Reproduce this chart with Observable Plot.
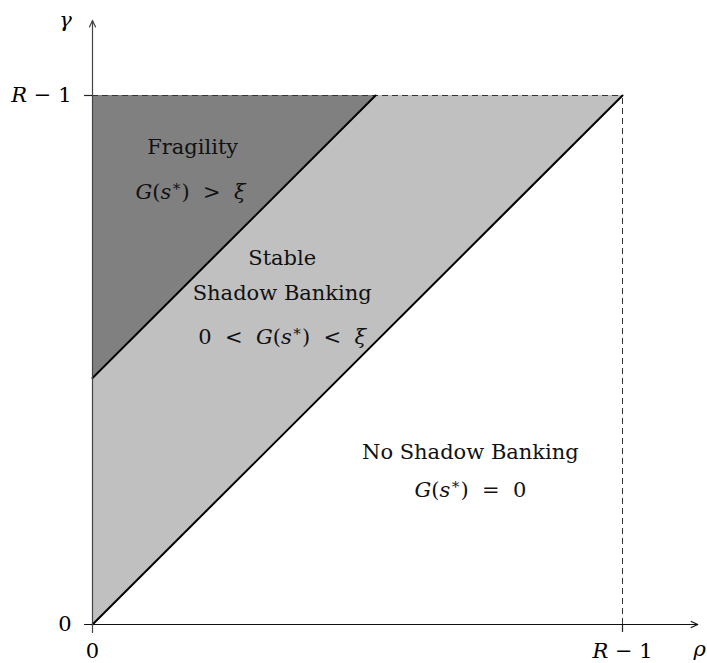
<!DOCTYPE html>
<html>
<head>
<meta charset="utf-8">
<script src="https://cdn.jsdelivr.net/npm/d3@7"></script>
<script src="https://cdn.jsdelivr.net/npm/@observablehq/plot@0.6"></script>
<style>
  body { margin: 0; background: #fff; }
  #chart { width: 707px; height: 663px; }
</style>
</head>
<body>
<div id="chart"></div>
<script>
// ---- data (R − 1 normalised to 1) ----
const R1 = 1;                 // R − 1
const fragIntercept = 0.466;  // fragility boundary meets γ-axis
const fragTop = 0.534;        // fragility boundary meets γ = R − 1

// light region (stable shadow banking): between γ = ρ and the fragility boundary
const stableX  = [0, fragTop, R1];
const stableY1 = [0, fragTop, R1];
const stableY2 = [fragIntercept, R1, R1];
// dark region (fragility): above the fragility boundary
const fragX  = [0, fragTop];
const fragY1 = [fragIntercept, R1];
const fragY2 = [R1, R1];

// boundary lines
const lowerLineX = [0, R1], lowerLineY = [0, R1];
const upperLineX = [0, fragTop], upperLineY = [fragIntercept, R1];

// region labels
const regionText = ["Fragility", "G(s*)  >  ξ", "Stable", "Shadow Banking", "0  <  G(s*)  <  ξ", "No Shadow Banking", "G(s*)  =  0"];
const regionX = [0.189, 0.185, 0.358, 0.358, 0.358, 0.713, 0.713];
const regionY = [0.902, 0.817, 0.692, 0.626, 0.543, 0.325, 0.253];

// tick labels
const xTickVals = [0, R1], xTickText = ["0", "R − 1"];
const yTickVals = [0, R1], yTickText = ["0", "R − 1"];
const axisExt = 1.142, axisNeg = -0.015;

const stable = stableX.map((x, i) => ({x, y1: stableY1[i], y2: stableY2[i]}));
const frag = fragX.map((x, i) => ({x, y1: fragY1[i], y2: fragY2[i]}));
const lowerLine = lowerLineX.map((x, i) => ({x, y: lowerLineY[i]}));
const upperLine = upperLineX.map((x, i) => ({x, y: upperLineY[i]}));
const regions = regionText.map((t, i) => ({t, x: regionX[i], y: regionY[i]}));

const font = "DejaVu Serif";
const fs = 21;

const plot = Plot.plot({
  width: 707,
  height: 663,
  x: {domain: [0, 1], range: [92, 622], axis: null},
  y: {domain: [0, 1], range: [624, 95], axis: null},
  style: {color: "#000", background: "#fff", fontFamily: font},
  marks: [
    Plot.areaY(stable, {x: "x", y1: "y1", y2: "y2", fill: "#c0c0c0", curve: "linear"}),
    Plot.areaY(frag, {x: "x", y1: "y1", y2: "y2", fill: "#808080", curve: "linear"}),
    // dashed guides at R − 1
    Plot.ruleY([R1], {x1: 0, x2: R1, stroke: "#333", strokeWidth: 1, strokeDasharray: "6,4"}),
    Plot.ruleX([R1], {y1: 0, y2: R1, stroke: "#333", strokeWidth: 1, strokeDasharray: "6,4"}),
    // small solid ticks
    Plot.ruleY([R1], {x1: axisNeg, x2: 0, stroke: "#222", strokeWidth: 1.2}),
    Plot.ruleX([R1], {y1: axisNeg, y2: 0, stroke: "#222", strokeWidth: 1.2}),
    // boundary lines
    Plot.line(lowerLine, {x: "x", y: "y", stroke: "#000", strokeWidth: 2}),
    Plot.line(upperLine, {x: "x", y: "y", stroke: "#000", strokeWidth: 2}),
    // axes with arrows
    Plot.arrow([{x1: axisNeg, y1: 0, x2: axisExt, y2: 0}], {x1: "x1", y1: "y1", x2: "x2", y2: "y2", stroke: "#111", strokeWidth: 1.2, headLength: 9, headAngle: 50}),
    Plot.arrow([{x1: 0, y1: axisNeg, x2: 0, y2: axisExt}], {x1: "x1", y1: "y1", x2: "x2", y2: "y2", stroke: "#444", strokeWidth: 1.2, headLength: 9, headAngle: 50}),
    // tick labels
    Plot.text(xTickVals.map((v, i) => ({v, t: xTickText[i]})), {x: "v", y: 0, text: "t", dy: 27, fill: "#000", fontFamily: font, fontSize: fs}),
    Plot.text(yTickVals.map((v, i) => ({v, t: yTickText[i]})), {x: 0, y: "v", text: "t", dx: -21, textAnchor: "end", fill: "#000", fontFamily: font, fontSize: fs}),
    Plot.text(["ρ"], {x: axisExt, y: 0, text: d => d, dx: 2, dy: 25, fill: "#000", fontFamily: font, fontSize: fs}),
    Plot.text(["γ"], {x: 0, y: axisExt, text: d => d, dx: -27, dy: 0, fill: "#000", fontFamily: font, fontSize: fs}),
    // region labels
    Plot.text(regions, {x: "x", y: "y", text: "t", fill: "#111", fontFamily: font, fontSize: fs})
  ]
});

// typeset math-like labels: italic symbols, raised asterisk
const italic = new Set(["G", "s", "ξ", "R", "ρ", "γ"]);
d3.select(plot).selectAll("text").each(function() {
  const t = this.textContent;
  this.style.whiteSpace = "pre";
  if (!/[GsξRργ*]/.test(t) || /[a-rt-z]/.test(t.replace(/[GsξRργ]/g, ""))) return;
  const sel = d3.select(this);
  sel.text(null);
  let pendingDy = 0;
  for (const ch of t) {
    const ts = sel.append("tspan");
    if (pendingDy) { ts.attr("dy", pendingDy); pendingDy = 0; }
    if (ch === "*") {
      ts.attr("dy", -8).attr("font-size", "15px").text("∗");
      pendingDy = 8;
    } else {
      if (italic.has(ch)) ts.attr("font-style", "italic");
      ts.text(ch);
    }
  }
});

document.getElementById("chart").appendChild(plot);
</script>
</body>
</html>
